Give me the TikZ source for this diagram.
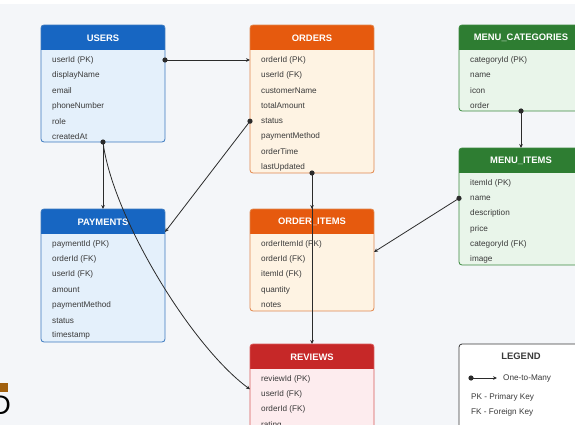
\documentclass[tikz,border=0pt]{standalone}
\usepackage{fontspec}
\setmainfont{Liberation Sans}
\usetikzlibrary{arrows.meta,calc}
\definecolor{bgc}{HTML}{F4F6F9}
\definecolor{brownbar}{HTML}{A0600E}
\definecolor{bluehead}{HTML}{1766C2}
\definecolor{bluebody}{HTML}{E4F0FB}
\definecolor{blueborder}{HTML}{3B78BE}
\definecolor{orangehead}{HTML}{E65A0E}
\definecolor{orangebody}{HTML}{FEF3E3}
\definecolor{orangeborder}{HTML}{E0864E}
\definecolor{greenhead}{HTML}{2E7D32}
\definecolor{greenbody}{HTML}{E9F5EA}
\definecolor{greenborder}{HTML}{3C8A40}
\definecolor{redhead}{HTML}{C62828}
\definecolor{redbody}{HTML}{FDECEE}
\definecolor{redborder}{HTML}{D85A5A}
\definecolor{txt}{HTML}{3A3A3A}
\definecolor{linec}{HTML}{2B2B2B}
\tikzset{
  erbox/.style={rectangle, inner sep=0pt, outer sep=0pt, minimum width=124pt},
  ertitle/.style={text=white, font=\bfseries\fontsize{9.4}{11}\selectfont, inner sep=0pt},
  errow/.style={text=txt, font=\fontsize{8.2}{10}\selectfont, inner sep=0pt, anchor=west},
  conn/.style={draw=linec, line width=0.8pt, -{Stealth[length=4pt,width=3.6pt]}},
  dot/.style={fill=linec},
}
\newcommand{\erentity}[6]{% name, x, y, height, title, theme
  \node[erbox, minimum height=#4pt, anchor=north west, fill=#6body] (#1) at (#2pt,-#3pt) {};
  \begin{scope}
    \clip[rounded corners=3pt] (#1.north west) rectangle (#1.south east);
    \fill[#6head] (#1.north west) rectangle ([yshift=-25pt]#1.north east);
  \end{scope}
  \draw[#6border, rounded corners=3pt, line width=0.8pt] (#1.north west) rectangle (#1.south east);
  \node[ertitle] (#1-title) at ([yshift=-13pt]#1.north) {#5};
}
\newcommand{\errows}[2]{%
  \foreach \t [count=\i] in {#2} {
    \node[errow] (#1-\i) at ([xshift=11pt,yshift={-35pt-15.3pt*(\i-1)}]#1.north west) {\t};
  }
}
\begin{document}
\begin{tikzpicture}[x=1pt,y=1pt]
\useasboundingbox (0,0) rectangle (575,-425);
\clip (0,0) rectangle (575,-425);
\fill[bgc] (0,0) rectangle (575,-425);
\fill[white] (0,0) rectangle (575,-4);

% artifacts at left edge
\fill[brownbar] (0,-383) rectangle (8,-392);
\node[inner sep=0pt, anchor=base east, font=\fontsize{27}{30}\selectfont] (artD) at (11,-414) {D};

% entities
\erentity{users}{41}{25}{117}{USERS}{blue}
\errows{users}{userId (PK),displayName,email,phoneNumber,role,createdAt}
\erentity{orders}{250}{25}{148}{ORDERS}{orange}
\errows{orders}{orderId (PK),userId (FK),customerName,totalAmount,status,paymentMethod,orderTime,lastUpdated}
\erentity{menucat}{459}{25}{86}{MENU\_CATEGORIES}{green}
\errows{menucat}{categoryId (PK),name,icon,order}
\erentity{menuitems}{459}{148}{117}{MENU\_ITEMS}{green}
\errows{menuitems}{itemId (PK),name,description,price,categoryId (FK),image}
\erentity{payments}{41}{209}{133}{PAYMENTS}{blue}
\errows{payments}{paymentId (PK),orderId (FK),userId (FK),amount,paymentMethod,status,timestamp}
\erentity{orderitems}{250}{209}{102}{ORDER\_ITEMS}{orange}
\errows{orderitems}{orderItemId (PK),orderId (FK),itemId (FK),quantity,notes}
\erentity{reviews}{250}{344}{110}{REVIEWS}{red}
\errows{reviews}{reviewId (PK),userId (FK),orderId (FK),rating}

% legend
\node[erbox, minimum height=110pt, anchor=north west, fill=white, draw=txt, line width=0.8pt, rounded corners=3pt] (legend) at (459pt,-344pt) {};
\node[font=\bfseries\fontsize{9.4}{11}\selectfont, text=txt, inner sep=0pt] (legtitle) at (521,-356) {LEGEND};
\coordinate (lga) at (471,-378);
\coordinate (lgb) at (497,-378);
\draw[conn] (lga) -- (lgb);
\fill[dot] (lga) circle (2.6pt);
\node[errow] (leg1) at (503,-378) {One-to-Many};
\node[errow] (leg2) at (471,-397) {PK - Primary Key};
\node[errow] (leg3) at (471,-412) {FK - Foreign Key};

% connectors
\draw[conn] (users.east |- users-1) -- (orders.west |- users-1);
\fill[dot] (users.east |- users-1) circle (2.6pt);

\draw[conn] (users.south) -- (payments.north);
\draw[conn] (users.south) .. controls (112,-215) and (190,-345) .. ([yshift=5pt]reviews.west |- reviews-2);
\fill[dot] (users.south) circle (2.6pt);

\draw[conn] (orders.west |- orders-5) -- ([yshift=-23pt]payments.north east);
\fill[dot] (orders.west |- orders-5) circle (2.6pt);

\draw[conn] (orders.south) -- (orderitems.north);
\draw[conn] (orders.south) -- (reviews.north);
\fill[dot] (orders.south) circle (2.6pt);

\draw[conn] (menuitems.west |- menuitems-2) -- ([yshift=8pt]orderitems.east);
\fill[dot] (menuitems.west |- menuitems-2) circle (2.6pt);

\draw[conn] (menucat.south) -- (menuitems.north);
\fill[dot] (menucat.south) circle (2.6pt);
\end{tikzpicture}
\end{document}
